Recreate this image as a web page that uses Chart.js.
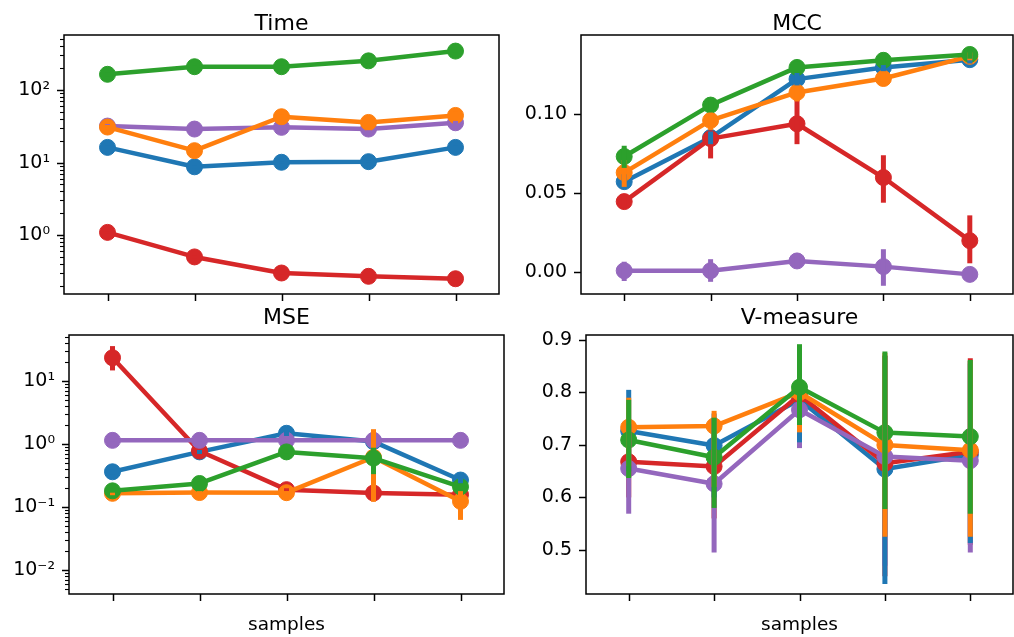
<!DOCTYPE html>
<html lang="en">
<head>
    <meta charset="UTF-8">
    <title>Time / MCC / MSE / V-measure vs samples</title>
    <script src="https://cdn.jsdelivr.net/npm/chart.js"></script>
    <style>
        body { margin: 0; background: #ffffff; }
        #fig { position: relative; width: 1014px; height: 637px; overflow: hidden; }
        #fig canvas { position: absolute; }
    </style>
</head>
<body>
<div id="fig">
    <canvas id="timeChart" width="507" height="310" style="left:0px;top:0px"></canvas>
    <canvas id="mccChart" width="507" height="310" style="left:507px;top:0px"></canvas>
    <canvas id="mseChart" width="507" height="337" style="left:0px;top:300px"></canvas>
    <canvas id="vmChart" width="507" height="337" style="left:507px;top:300px"></canvas>
</div>
<script>
    // x categories (the tick labels are not shown in the figure)
    const samples = ['s1', 's2', 's3', 's4', 's5'];
    const methods = ['method 1', 'method 2', 'method 3', 'method 4', 'method 5'];

    // Time (log scale) - series order: blue, orange, green, red, purple
    const timeValues = [
        [16.2, 8.75, 10.1, 10.3, 16.2],
        [30.9, 14.6, 42.9, 35.8, 44.7],
        [165, 210, 210, 253, 345],
        [1.09, 0.50, 0.30, 0.27, 0.25],
        [31.9, 29.0, 30.6, 29.0, 35.4]
    ];
    const timeLo = [
        [15.5, 8.4, 9.7, 9.9, 15.4],
        [28.5, 13.8, 40, 28, 40],
        [155, 200, 200, 235, 330],
        [1.05, 0.48, 0.29, 0.26, 0.24],
        [30, 27.5, 29, 26, 33.5]
    ];
    const timeHi = [
        [17, 9.1, 10.5, 10.7, 17],
        [33, 15.5, 46, 45, 50],
        [175, 220, 220, 275, 360],
        [1.13, 0.52, 0.31, 0.28, 0.26],
        [34, 30.5, 32, 32, 37.5]
    ];
    const timeTicks = [1, 10, 100];

    // MCC
    const mccValues = [
        [0.0573, 0.0852, 0.1221, 0.1295, 0.1344],
        [0.0630, 0.0960, 0.1137, 0.1225, 0.1365],
        [0.0732, 0.1057, 0.1295, 0.1340, 0.1377],
        [0.0447, 0.0845, 0.0939, 0.0599, 0.0200],
        [0.0010, 0.0010, 0.0072, 0.0036, -0.0013]
    ];
    const mccLo = [
        [0.053, 0.081, 0.118, 0.127, 0.132],
        [0.054, 0.090, 0.108, 0.118, 0.134],
        [0.066, 0.102, 0.126, 0.131, 0.135],
        [0.041, 0.072, 0.081, 0.044, 0.0057],
        [-0.0055, -0.006, 0.003, -0.0085, -0.006]
    ];
    const mccHi = [
        [0.062, 0.089, 0.126, 0.132, 0.137],
        [0.071, 0.101, 0.118, 0.127, 0.139],
        [0.080, 0.109, 0.133, 0.137, 0.140],
        [0.048, 0.088, 0.109, 0.074, 0.036],
        [0.0067, 0.0083, 0.012, 0.0146, 0.003]
    ];
    const mccTicks = [0, 0.05, 0.10];

    // MSE (log scale)
    const mseValues = [
        [0.365, 0.755, 1.49, 1.10, 0.270],
        [0.166, 0.171, 0.170, 0.620, 0.124],
        [0.182, 0.238, 0.755, 0.600, 0.211],
        [23.5, 0.78, 0.190, 0.168, 0.158],
        [1.15, 1.15, 1.15, 1.15, 1.15]
    ];
    const mseLo = [
        [0.33, 0.70, 1.35, 0.95, 0.24],
        [0.155, 0.162, 0.16, 0.122, 0.063],
        [0.17, 0.22, 0.70, 0.335, 0.19],
        [14.8, 0.74, 0.18, 0.16, 0.15],
        [1.12, 1.12, 1.12, 1.12, 1.12]
    ];
    const mseHi = [
        [0.40, 0.81, 1.62, 1.25, 0.30],
        [0.178, 0.18, 0.18, 1.73, 0.18],
        [0.195, 0.255, 0.81, 0.88, 0.235],
        [36, 0.82, 0.20, 0.176, 0.166],
        [1.18, 1.18, 1.18, 1.18, 1.18]
    ];
    const mseTicks = [0.01, 0.1, 1, 10];

    // V-measure
    const vmValues = [
        [0.7267, 0.699, 0.786, 0.654, 0.681],
        [0.7337, 0.736, 0.800, 0.700, 0.690],
        [0.7095, 0.6766, 0.810, 0.7235, 0.716],
        [0.668, 0.659, 0.795, 0.665, 0.687],
        [0.655, 0.626, 0.767, 0.678, 0.670]
    ];
    const vmLo = [
        [0.65, 0.60, 0.705, 0.435, 0.513],
        [0.66, 0.62, 0.724, 0.525, 0.525],
        [0.637, 0.58, 0.738, 0.578, 0.569],
        [0.60, 0.56, 0.72, 0.45, 0.51],
        [0.569, 0.495, 0.694, 0.47, 0.495]
    ];
    const vmHi = [
        [0.805, 0.76, 0.87, 0.87, 0.86],
        [0.79, 0.765, 0.88, 0.875, 0.86],
        [0.786, 0.752, 0.892, 0.878, 0.862],
        [0.74, 0.75, 0.87, 0.87, 0.865],
        [0.74, 0.75, 0.84, 0.87, 0.855]
    ];
    const vmTicks = [0.5, 0.6, 0.7, 0.8, 0.9];

    const palette = ['#1f77b4', '#ff7f0e', '#2ca02c', '#d62728', '#9467bd'];
    const drawOrder = [5, 2, 1, 4, 3];   // lower = drawn on top
    const errOrder = [3, 4, 0, 1, 2];    // error bars painted in this order

    Chart.defaults.font.family = '"DejaVu Sans", sans-serif';
    Chart.defaults.color = '#000';

    const supMap = { '-': '\u207B', '0': '\u2070', '1': '\u00B9', '2': '\u00B2', '3': '\u00B3' };
    const logLabel = v => '10' + String(Math.round(Math.log10(v))).split('').map(c => supMap[c]).join('');

    // box, tick marks, titles and error bars (matplotlib look)
    const figPlugin = {
        id: 'fig',
        afterDatasetsDraw(chart) {
            const o = chart.options.plugins.fig;
            const { ctx, chartArea: a, scales: { x, y } } = chart;
            ctx.save();
            ctx.beginPath();
            ctx.rect(a.left, a.top, a.right - a.left, a.bottom - a.top);
            ctx.clip();
            ctx.lineWidth = 5;
            ctx.lineCap = 'butt';
            errOrder.forEach(i => {
                ctx.strokeStyle = palette[i];
                o.lo[i].forEach((lo, j) => {
                    const px = x.getPixelForValue(j);
                    ctx.beginPath();
                    ctx.moveTo(px, y.getPixelForValue(lo));
                    ctx.lineTo(px, y.getPixelForValue(o.hi[i][j]));
                    ctx.stroke();
                });
            });
            ctx.restore();
        },
        afterDraw(chart) {
            const o = chart.options.plugins.fig;
            const { ctx, chartArea: a, scales: { x, y } } = chart;
            ctx.save();
            ctx.strokeStyle = '#000';
            ctx.lineWidth = 1.5;
            ctx.strokeRect(a.left, a.top, a.right - a.left, a.bottom - a.top);

            // x ticks
            samples.forEach((s, j) => {
                const px = Math.round(x.getPixelForValue(j)) + 0.5;
                ctx.beginPath();
                ctx.moveTo(px, a.bottom);
                ctx.lineTo(px, a.bottom + 7);
                ctx.stroke();
            });
            // y major ticks
            y.ticks.forEach(t => {
                const py = Math.round(y.getPixelForValue(t.value)) + 0.5;
                ctx.beginPath();
                ctx.moveTo(a.left, py);
                ctx.lineTo(a.left - 7, py);
                ctx.stroke();
            });
            // y minor ticks on log axes
            if (o.log) {
                ctx.lineWidth = 1.1;
                const e0 = Math.floor(Math.log10(y.min)), e1 = Math.ceil(Math.log10(y.max));
                for (let e = e0; e <= e1; e++) {
                    for (let k = 2; k <= 9; k++) {
                        const v = k * Math.pow(10, e);
                        if (v < y.min || v > y.max) continue;
                        const py = Math.round(y.getPixelForValue(v)) + 0.5;
                        ctx.beginPath();
                        ctx.moveTo(a.left, py);
                        ctx.lineTo(a.left - 4, py);
                        ctx.stroke();
                    }
                }
            }

            ctx.fillStyle = '#000';
            ctx.textAlign = 'center';
            ctx.textBaseline = 'alphabetic';
            ctx.font = '22px "DejaVu Sans"';
            ctx.fillText(o.title, (a.left + a.right) / 2, a.top - o.titleGap);
            if (o.xlabel) {
                ctx.font = '18.5px "DejaVu Sans"';
                ctx.fillText(o.xlabel, (a.left + a.right) / 2, a.bottom + 35.5);
            }
            ctx.restore();
        }
    };

    function makeChart(id, p) {
        return new Chart(document.getElementById(id), {
            type: 'line',
            data: {
                labels: samples,
                datasets: p.values.map((vals, i) => ({
                    label: methods[i],
                    data: vals,
                    borderColor: palette[i],
                    backgroundColor: palette[i],
                    borderWidth: 4.5,
                    borderJoinStyle: 'round',
                    pointRadius: 8,
                    pointBorderWidth: 1,
                    pointBorderColor: palette[i],
                    pointBackgroundColor: palette[i],
                    tension: 0,
                    fill: false,
                    clip: 0,
                    order: drawOrder[i]
                }))
            },
            options: {
                responsive: false,
                animation: false,
                events: [],
                layout: { padding: p.pad, autoPadding: false },
                plugins: {
                    legend: { display: false },
                    tooltip: { enabled: false },
                    fig: { title: p.title, titleGap: p.titleGap, xlabel: p.xlabel, log: p.log, lo: p.lo, hi: p.hi }
                },
                scales: {
                    x: {
                        type: 'category',
                        offset: true,
                        grid: { display: false, drawTicks: false },
                        border: { display: false },
                        ticks: { display: false },
                        afterFit: s => {
                            s.height = p.xh;
                            s.paddingLeft = 0;
                            s.paddingRight = 0;
                        }
                    },
                    y: {
                        type: p.log ? 'logarithmic' : 'linear',
                        min: p.min,
                        max: p.max,
                        bounds: 'data',
                        grid: { display: false, drawTicks: false },
                        border: { display: false },
                        ticks: {
                            autoSkip: false,
                            padding: 14,
                            color: '#000',
                            font: { size: 19 },
                            callback: p.fmt
                        },
                        afterBuildTicks: s => { s.ticks = p.ticks.map(v => ({ value: v })); },
                        afterFit: s => {
                            s.width = p.yw;
                            s.paddingTop = 0;
                            s.paddingBottom = 0;
                        }
                    }
                }
            },
            plugins: [figPlugin]
        });
    }

    makeChart('timeChart', {
        title: 'Time', titleGap: 5.5, values: timeValues, lo: timeLo, hi: timeHi,
        log: true, min: 0.154, max: 575, ticks: timeTicks, fmt: logLabel,
        pad: { top: 35, right: 8, bottom: 0, left: 0 }, yw: 64, xh: 16
    });
    makeChart('mccChart', {
        title: 'MCC', titleGap: 5.5, values: mccValues, lo: mccLo, hi: mccHi,
        log: false, min: -0.0137, max: 0.150, ticks: mccTicks, fmt: v => v.toFixed(2),
        pad: { top: 35, right: 1, bottom: 0, left: 0 }, yw: 74, xh: 16
    });
    makeChart('mseChart', {
        title: 'MSE', titleGap: 11, xlabel: 'samples', values: mseValues, lo: mseLo, hi: mseHi,
        log: true, min: 0.0042, max: 54, ticks: mseTicks, fmt: logLabel,
        pad: { top: 35, right: 3, bottom: 0, left: 0 }, yw: 69, xh: 43
    });
    makeChart('vmChart', {
        title: 'V-measure', titleGap: 11, xlabel: 'samples', values: vmValues, lo: vmLo, hi: vmHi,
        log: false, min: 0.416, max: 0.9095, ticks: vmTicks, fmt: v => v.toFixed(1),
        pad: { top: 35, right: 1, bottom: 0, left: 0 }, yw: 79, xh: 43
    });
</script>
</body>
</html>
